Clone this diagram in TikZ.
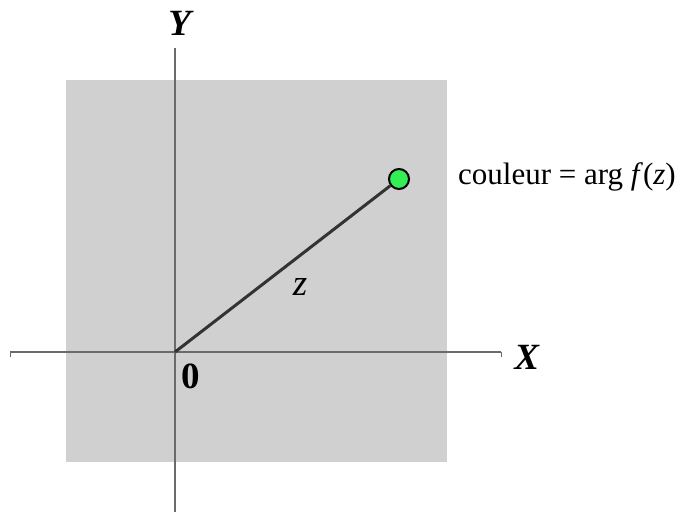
\documentclass[tikz,border=0pt]{standalone}
\usepackage{fontspec}
\setmainfont{Liberation Serif}
\definecolor{boxgray}{HTML}{D0D0D0}
\definecolor{axisgray}{HTML}{6A6A6A}
\definecolor{seggray}{HTML}{333333}
\definecolor{ptgreen}{HTML}{33EE55}
\tikzset{
  axis/.style={draw=axisgray, line width=1.6pt},
  seg/.style={draw=seggray, line width=3pt},
  pt/.style={circle, draw=black, fill=ptgreen, line width=2pt, minimum size=20pt, inner sep=0pt},
  biglab/.style={font=\fontsize{37}{40}\selectfont, inner sep=0pt},
  txt/.style={font=\fontsize{31}{34}\selectfont, inner sep=0pt, anchor=base west}
}
\begin{document}
\begin{tikzpicture}[x=1pt,y=-1pt]
\useasboundingbox (0,0) rectangle (681,512);
\fill[boxgray] (66,80) rectangle (447,462);
\coordinate (O) at (175,352);
\coordinate (xl) at (10,352);
\coordinate (xr) at (501,352);
\coordinate (yt) at (175,48);
\coordinate (yb) at (175,512);
\draw[axis] (xl) -- (xr);
\draw[axis] (yt) -- (yb);
\draw[axisgray, line width=1pt] (xl) -- ++(0,5);
\draw[axisgray, line width=1pt] (xr) -- ++(0,5);
\node[pt] (P) at (399,179) {};
\draw[seg] (O) -- (P);
\node[biglab] (Y) at (181,23) {\textbf{\textit{Y}}};
\node[biglab] (X) at (527,357) {\textbf{\textit{X}}};
\node[biglab] (zero) at (191,376) {\textbf{0}};
\node[biglab] (z) at (300,287) {\textit{z}};
\node[txt] (lab) at (458,184) {couleur = arg \textit{f}(\textit{z})};
\end{tikzpicture}
\end{document}
